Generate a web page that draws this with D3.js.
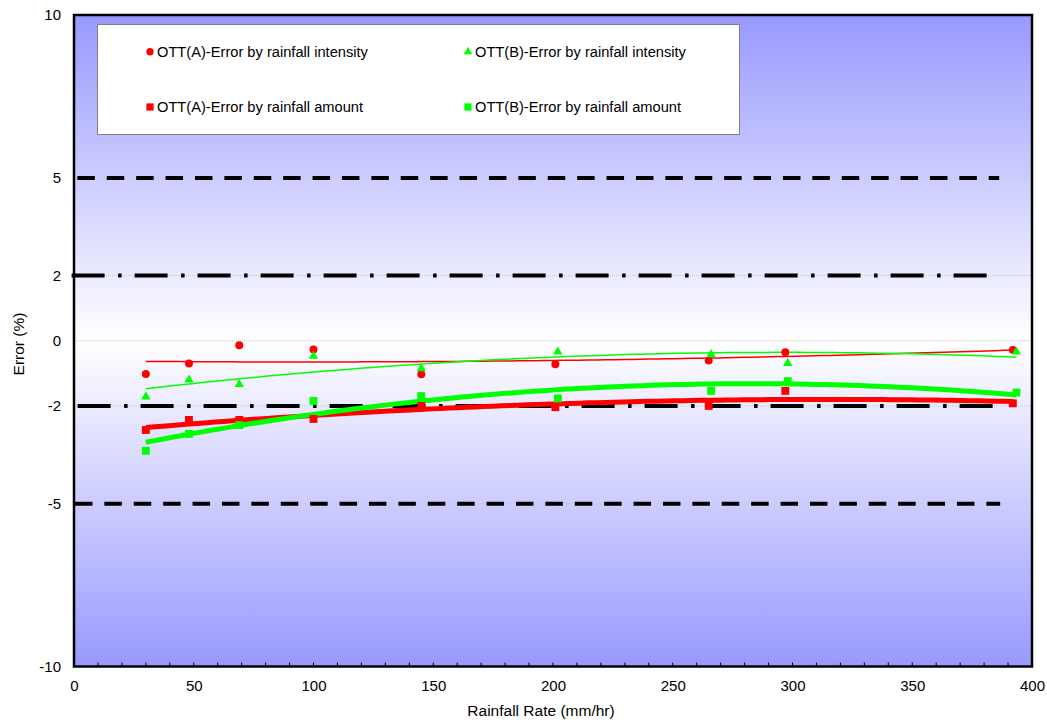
<!DOCTYPE html>
<html><head><meta charset="utf-8">
<script src="https://cdn.jsdelivr.net/npm/d3@7"></script>
<style>
body{margin:0;background:#fff;}
text{font-family:"Liberation Sans",Arial,sans-serif;}
</style>
</head><body>
<svg id="c" width="1047" height="724"></svg>
<script>
// ---- data ----
const xA = [30, 48, 69, 100, 145, 201, 265, 297, 392];
const xB = [30, 48, 69, 100, 145, 202, 266, 298, 393.5];
const aIntensity = [-1.02, -0.70, -0.14, -0.27, -1.03, -0.72, -0.61, -0.35, -0.28];
const bIntensity = [-1.72, -1.20, -1.34, -0.47, -0.85, -0.34, -0.42, -0.69, -0.34];
const aAmount = [-2.74, -2.43, -2.43, -2.40, -2.00, -2.04, -2.00, -1.54, -1.92];
const bAmount = [-3.38, -2.86, -2.59, -1.85, -1.70, -1.77, -1.54, -1.24, -1.59];
const yTicks = [10, 5, 2, 0, -2, -5, -10];
const xTicks = [0, 50, 100, 150, 200, 250, 300, 350, 400];
const minorXTicks = d3.range(0, 401, 10);
const seriesNames = ["OTT(A)-Error by rainfall intensity", "OTT(B)-Error by rainfall intensity",
                     "OTT(A)-Error by rainfall amount", "OTT(B)-Error by rainfall amount"];
const refValues = [5, 2, -2, -5];
const refKinds = ["dash", "dashdot", "dashdot", "dash"];
const refFrom = [1.4, -1.0, 1.5, 0.4];
const refTo = [386.3, 381.2, 383.7, 386.7];
const xTitle = "Rainfall Rate (mm/hr)";
const yTitle = "Error (%)";

// ---- layout ----
const svg = d3.select("#c");
const L = 74, R = 1032, T = 15, B = 666.5;
const x = d3.scaleLinear().domain([0, 400]).range([L, R]);
const y = d3.scaleLinear().domain([-10, 10]).range([B, T]);
const fmt = d => String(d);

const defs = svg.append("defs");
const g = defs.append("linearGradient").attr("id", "bg").attr("x1", 0).attr("y1", 0).attr("x2", 0).attr("y2", 1);
g.append("stop").attr("offset", "0%").attr("stop-color", "#9999ff");
g.append("stop").attr("offset", "50%").attr("stop-color", "#ffffff");
g.append("stop").attr("offset", "100%").attr("stop-color", "#9999ff");

svg.append("rect").attr("x", L).attr("y", T).attr("width", R - L).attr("height", B - T).attr("fill", "url(#bg)");

// gridlines
svg.append("g").selectAll("line").data(yTicks).join("line")
  .attr("x1", L).attr("x2", R).attr("y1", d => y(d)).attr("y2", d => y(d))
  .attr("stroke", "#c8c8c8").attr("stroke-width", 1).attr("stroke-dasharray", "1,1");

// reference lines
const refData = refValues.map((v, i) => ({v, kind: refKinds[i], from: refFrom[i], to: refTo[i]}));
svg.append("g").selectAll("line").data(refData).join("line")
  .attr("x1", d => x(d.from)).attr("x2", d => x(d.to))
  .attr("y1", d => y(d.v)).attr("y2", d => y(d.v))
  .attr("stroke", "#000").attr("stroke-width", 4)
  .attr("stroke-dasharray", d => d.kind === "dash" ? "17.5,11.9" : "33,13.5,3.5,13");

// quadratic least-squares trend
function quadFit(xs, ys) {
  let s = [0, 0, 0, 0, 0], t = [0, 0, 0];
  xs.forEach((xv, i) => {
    for (let k = 0; k < 5; k++) s[k] += Math.pow(xv, k);
    for (let k = 0; k < 3; k++) t[k] += ys[i] * Math.pow(xv, k);
  });
  const M = [[s[0], s[1], s[2], t[0]], [s[1], s[2], s[3], t[1]], [s[2], s[3], s[4], t[2]]];
  for (let c = 0; c < 3; c++) {
    let p = c;
    for (let r = c + 1; r < 3; r++) if (Math.abs(M[r][c]) > Math.abs(M[p][c])) p = r;
    [M[c], M[p]] = [M[p], M[c]];
    for (let r = 0; r < 3; r++) if (r !== c) {
      const f = M[r][c] / M[c][c];
      for (let k = c; k < 4; k++) M[r][k] -= f * M[c][k];
    }
  }
  const co = M.map((row, i) => row[3] / row[i]);
  return xv => co[0] + co[1] * xv + co[2] * xv * xv;
}

const series = [
  {name: seriesNames[0], xs: xA, ys: aIntensity, color: "#ff0000", sym: d3.symbolCircle, size: 50, w: 1.5},
  {name: seriesNames[1], xs: xB, ys: bIntensity, color: "#00ff00", sym: d3.symbolTriangle, size: 38, w: 1.5},
  {name: seriesNames[2], xs: xA, ys: aAmount, color: "#ff0000", sym: d3.symbolSquare, size: 62, w: 5},
  {name: seriesNames[3], xs: xB, ys: bAmount, color: "#00ff00", sym: d3.symbolSquare, size: 62, w: 5}
];

const line = d3.line().x(d => x(d[0])).y(d => y(d[1]));
series.forEach(s => {
  const f = quadFit(s.xs, s.ys);
  const [x0, x1] = d3.extent(s.xs);
  const pts = d3.range(0, 101).map(i => { const xv = x0 + (x1 - x0) * i / 100; return [xv, f(xv)]; });
  svg.append("path").datum(pts).attr("d", line).attr("fill", "none")
    .attr("stroke", s.color).attr("stroke-width", s.w).attr("stroke-linejoin", "round");
});
series.forEach(s => {
  svg.append("g").selectAll("path").data(s.xs.map((xv, i) => [xv, s.ys[i]])).join("path")
    .attr("d", d3.symbol().type(s.sym).size(s.size))
    .attr("transform", d => `translate(${x(d[0])},${y(d[1])})`)
    .attr("fill", s.color);
});

// legend
const lg = svg.append("g");
lg.append("rect").attr("x", 97.5).attr("y", 24.5).attr("width", 642).attr("height", 110)
  .attr("fill", "#fff").attr("stroke", "#808080").attr("stroke-width", 1);
const legPos = [[150, 51.7], [468, 51.7], [150, 107], [468, 107]];
series.forEach((s, i) => {
  const [lx, ly] = legPos[i];
  lg.append("path").attr("d", d3.symbol().type(s.sym).size(s.size * 0.85)).attr("transform", `translate(${lx},${ly})`).attr("fill", s.color);
  lg.append("text").attr("x", lx + 7).attr("y", ly).attr("dy", "0.35em").attr("font-size", 14.67).attr("fill", "#000").text(s.name);
});

// frame
svg.append("rect").attr("x", L).attr("y", T).attr("width", R - L).attr("height", B - T)
  .attr("fill", "none").attr("stroke", "#000").attr("stroke-width", 2.5);

// minor x ticks (inward)
svg.append("g").selectAll("line").data(minorXTicks).join("line")
  .attr("x1", d => x(d)).attr("x2", d => x(d)).attr("y1", B).attr("y2", B - 4)
  .attr("stroke", "#000").attr("stroke-width", 1);

// axes labels
const xAx = svg.append("g").attr("transform", `translate(0,${B})`)
  .call(d3.axisBottom(x).tickValues(xTicks).tickSize(0).tickPadding(14).tickFormat(fmt));
xAx.select(".domain").remove();
xAx.selectAll("text").attr("font-size", 15).attr("font-family", "Liberation Sans, Arial, sans-serif").attr("fill", "#000");

const yAx = svg.append("g").attr("transform", `translate(${L},0)`)
  .call(d3.axisLeft(y).tickValues(yTicks).tickSize(0).tickPadding(13).tickFormat(fmt));
yAx.select(".domain").remove();
yAx.selectAll("text").attr("font-size", 15).attr("font-family", "Liberation Sans, Arial, sans-serif").attr("fill", "#000");

svg.append("text").attr("x", 541).attr("y", 711).attr("dy", "0.35em").attr("text-anchor", "middle")
  .attr("font-size", 15.5).text(xTitle);
svg.append("text").attr("transform", "translate(18.5,344) rotate(-90)").attr("dy", "0.35em")
  .attr("text-anchor", "middle").attr("font-size", 15.5).text(yTitle);
</script>
</body></html>
